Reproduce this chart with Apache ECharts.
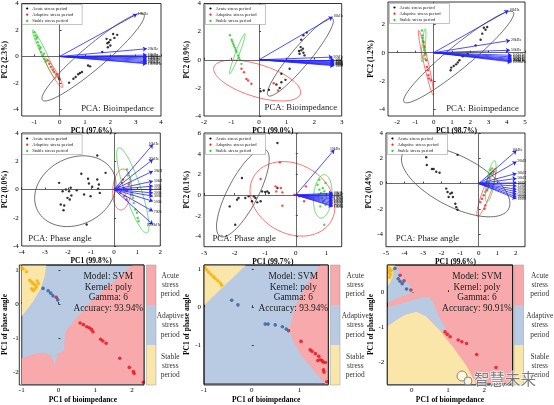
<!DOCTYPE html>
<html>
<head>
<meta charset="utf-8">
<script src="https://cdn.jsdelivr.net/npm/echarts@6/dist/echarts.min.js"></script>
<style>
html, body { margin: 0; padding: 0; background: #fff; }
#main { width: 554px; height: 405px; }
</style>
</head>
<body>
<div id="main"></div>
<script>
// ---- data ----
var groupNames = ['Acute stress period', 'Adaptive stress period', 'Stable stress period'];
var bioFreqs = ['10kHz', '20kHz', '50kHz', '100kHz', '150kHz', '200kHz', '300kHz', '500kHz', '700kHz', '1000kHz'];
var phaseFreqs = ['10kHz', '20kHz', '30kHz', '50kHz', '100kHz', '150kHz', '200kHz', '300kHz', '500kHz', '700kHz', '1000kHz'];

// PCA of bioimpedance, panel 1
var bio1Acute = [[1.68,0.33],[1.88,1.0],[1.94,1.08],[2.0,0.83],[2.11,1.7],[2.16,1.4],[2.27,1.63],[1.85,1.33],[2.0,1.25],[1.9,0.7],[0.37,-1.98],[0.54,-1.68],[0.63,-1.55],[0.73,-1.35],[0.8,-1.25],[0.88,-1.18],[1.12,-0.68],[1.2,-0.75],[-0.02,-1.68]];
var bio1Adaptive = [[-0.48,-0.3],[-0.41,-0.55],[-0.35,-0.8],[-0.28,-1.0],[-0.22,-1.18],[-0.12,-1.35],[-0.06,-1.55],[-0.01,-1.75]];
var bio1Stable = [[-1,1.83],[-0.96,1.58],[-0.92,1.33],[-0.87,1.08],[-0.83,0.83],[-0.78,0.58],[-0.73,0.33],[-0.67,0.08],[-0.61,-0.18],[-0.56,-0.38],[-0.9,1.45],[-0.76,0.7],[-0.63,0.2]];
var bio1Load = [[3.05,3.2],[3.44,0.58],[3.44,0.1],[3.44,0.0],[3.44,-0.1],[3.44,-0.2],[3.44,-0.3],[3.44,-0.4],[3.44,-0.5],[3.44,-0.55]];
// ellipse: centre x, centre y, half axis u (x, y), half axis v (x, y), group
var bio1Ell = [[1.32,-0.05,2.0,3.25,0.30,-0.66,0],[-0.22,-1.26,0.33,-1.08,0.09,0.1,1],[-0.61,0.16,0.46,-1.84,0.094,0.085,2]];

// PCA of bioimpedance, panel 2
var bio2Acute = [[1.47,0.43],[1.53,0.67],[1.59,0.79],[1.51,0.9],[1.61,0.5],[1.45,0.62],[1.65,0.31],[1.53,1.43],[1.61,1.74],[1.73,1.93],[1.2,-0.1],[1.11,-0.64],[0.81,-1.0],[0.96,-1.43],[0.81,-1.6],[0.63,-1.76],[0.75,-2.0],[0.36,-2.14],[0.17,-2.19],[0.05,-2.24]];
var bio2Adaptive = [[-0.64,-0.64],[-0.55,-0.88],[-0.46,-1.36],[-0.4,-1.48],[-0.28,-1.71],[0.53,-1.67],[0.69,-2.19]];
var bio2Stable = [[-1.06,1.74],[-1.0,1.43],[-0.94,1.14],[-0.88,0.86],[-0.82,0.55],[-0.76,0.31],[-0.7,0],[-0.64,-0.29],[-0.97,1.3],[-0.85,0.7],[-0.73,0.15],[-0.91,1.0]];
var bio2Load = [[2.67,3.05],[2.67,0.19],[2.73,0.0],[2.73,-0.08],[2.73,-0.15],[2.73,-0.22],[2.73,-0.28],[2.73,-0.33],[2.73,-0.38],[2.73,-0.42]];
var bio2Ell = [[1.5,0.19,1.17,2.74,0.26,-0.43,0],[-0.07,-1.48,1.57,-0.95,-0.17,-1.1,1],[-0.79,0.43,0.27,1.43,0.09,0.067,2]];

// PCA of bioimpedance, panel 3
var bio3Acute = [[2.75,1.77],[2.84,1.63],[2.93,1.82],[2.66,1.35],[2.57,0.92],[2.3,0.52],[1.86,-0.07],[1.59,-0.26],[1.41,-0.54],[1.32,-0.69],[1.23,-0.83],[0.93,-1.25],[0.96,-1.06],[1.1,-0.95]];
var bio3Adaptive = [[-0.55,0.76],[-0.5,0.4],[-0.46,-0.07],[-0.41,-0.54],[-0.37,-1.02],[-0.32,-1.25],[-0.29,-1.6],[-0.25,-1.84],[-0.14,-1.96]];
var bio3Stable = [[-0.64,1.58],[-0.61,1.23],[-0.59,0.87],[-0.55,0.52],[-0.52,0.17],[-0.5,-0.19],[-0.46,-0.43],[-0.6,1.05],[-0.53,0.35]];
var bio3Load = [[4.09,3.0],[4.18,0.87],[4.18,0.17],[4.27,-0.19],[4.27,-0.3],[4.27,-0.4],[4.27,-0.48],[4.27,-0.55],[4.27,-0.6],[4.27,-0.66]];
var bio3Ell = [[1.37,-0.31,2.99,3.19,0.39,-0.64,0],[-0.42,-0.72,0.4,-2.3,0.12,0.04,1],[-0.55,0.52,0.09,1.18,0.09,0.012,2]];

// PCA of phase angle, panel 1
var pha1Acute = [[-2.38,0.47],[-2.23,-0.12],[-2.09,0],[-1.95,-0.12],[-1.88,0.12],[-2.31,-1.06],[-2.16,-1.13],[-2.19,-1.47],[-2.02,-0.59],[-1.92,-0.71],[-1.85,-0.43],[-1.62,-0.05],[-1.42,1.11],[-1.13,0.76],[-1.09,0.43],[-0.95,0.19],[-0.73,0.71],[-0.66,0.35],[-0.69,0.05],[-0.62,-0.24],[-0.37,1.18],[-0.73,2.41],[-1.19,-2.48],[-1.3,-0.35],[-1.02,-0.47]];
var pha1Adaptive = [[0.2,0.19],[0.34,0.47],[0.42,0.12],[0.56,-0.12],[0.27,-0.24],[0.44,-0.47],[0.63,0.35],[0.39,0.71],[0.53,-0.71],[0.13,0]];
var pha1Stable = [[0.56,1.42],[0.63,1.18],[0.7,0.71],[0.67,0.47],[0.73,0.12],[0.77,-0.24],[0.82,-0.59],[0.85,-0.95],[0.92,-1.42],[0.99,-1.65],[1.02,-2.01],[1.06,-2.25],[0.6,1.0],[0.8,-0.4]];
var pha1Load = [[1.68,3.19],[1.68,2.13],[1.68,1.3],[1.68,0.59],[1.68,0.24],[1.68,0],[1.68,-0.24],[1.68,-0.47],[1.68,-0.83],[1.68,-1.54],[1.68,-2.48]];
var pha1Ell = [[-1.68,-0.12,1.64,1.35,0.64,-2.11,0],[0.34,0,0.05,1.45,0.4,0,1],[0.81,-0.06,-0.61,3.01,0.34,0.19,2]];

// PCA of phase angle, panel 2
var pha2Acute = [[-0.6,5.03],[-1.76,1.65],[-0.93,0.35],[-0.88,0.19],[-1.1,0.35],[-1.37,-0.13],[-1.32,-0.29],[-1.54,-0.13],[-1.87,-0.29],[-1.92,-0.45],[-1.65,-0.29],[-1.43,-0.61],[-1.26,-0.71],[-1.15,-0.61],[-2.16,-1.1],[-1.98,-2.87],[-0.6,0.68],[-1.0,0.3]];
var pha2Adaptive = [[-0.52,3.16],[-1.15,1.55],[-0.66,0.84],[-0.64,0.35],[-0.49,0.68],[-0.44,0.26],[-0.44,-1.03],[-0.05,0.03],[0.33,0.84],[0.27,-0.61],[0.11,-0.13]];
var pha2Stable = [[0.71,1.0],[0.77,0.52],[0.82,0.19],[0.88,0.68],[0.93,0.35],[0.99,-0.13],[0.86,-0.29],[0.9,-0.61],[0.97,-0.94],[0.8,-1.1],[0.77,1.48],[0.97,1.16],[0.93,-2.87],[0.75,0.0]];
var pha2Load = [[1.26,4.39],[1.21,0.19],[1.21,0.05],[1.21,-0.1],[1.21,-0.25],[1.21,-0.4],[1.21,-0.55],[1.21,-0.7],[1.21,-0.85],[1.21,-1.0],[1.21,-1.1]];
var pha2Ell = [[-1.73,0.2,0.74,4.2,0.44,-0.67,0],[-0.11,-0.37,1.26,-2.18,-0.58,-2.87,1],[0.88,-0.13,0.05,2.1,0.3,0,2]];

// PCA of phase angle, panel 3
var pha3Acute = [[-1.14,2.27],[-2.83,2.08],[-2.8,1.47],[-2.52,1.15],[-2.43,1.15],[-2.29,0.93],[-2.11,0.85],[-1.75,-0.4],[-1.68,-0.67],[-1.53,-0.8],[-1.44,-0.72],[-1.62,-1.07],[-1.39,-1.07],[-1.26,-1.6],[-1.21,-1.87],[-1.14,-2.08]];
var pha3Adaptive = [[0.09,-1.47],[0.18,-1.2],[0.27,-0.93],[0.36,-1.73],[0.32,-2.0],[0.45,-0.53],[0.59,0.4],[0.67,0.8],[0.81,0.93],[0.54,-0.13]];
var pha3Stable = [[0.45,0.27],[0.54,0.53],[0.63,1.07],[0.72,1.2],[0.49,-0.4],[0.36,-0.67],[0.77,0.8],[0.54,0.13],[0.6,0.7]];
var pha3Load = [[2.04,2.61],[2.04,1.73],[2.04,0.8],[2.04,0.4],[2.04,0.05],[2.04,-0.2],[2.04,-0.45],[2.04,-0.65],[2.04,-0.85],[2.04,-1.05],[2.04,-1.2]];
var pha3Ell = [[-1.24,0.17,2.86,-2.17,-0.62,-1.78,0],[0.42,-0.7,0.48,1.9,0.2,-0.11,1],[0.65,0.17,0.2,1.64,0.21,-0.03,2]];

// SVM panels: points and decision region outlines
var svm1Acute = [[-0.06,0.2],[0.59,-0.56],[0.68,-0.61],[0.77,-0.67],[0.84,-0.70],[0.9,-0.75],[0.94,-0.82],[1.15,-1.04],[1.21,-1.09],[1.3,-1.16],[1.67,-1.6],[1.93,-1.87],[2.04,-1.99],[2.06,-2.05],[2.31,-2.31]];
var svm1Adaptive = [[-0.42,0.46],[-0.28,0.39],[-0.21,0.32],[-0.15,0.24],[-0.02,0.12]];
var svm1Stable = [[-1,1.07],[-0.96,1.03],[-0.87,0.95],[-0.78,0.7],[-0.73,0.65],[-0.69,0.6],[-0.64,0.56],[-0.6,0.5],[-0.73,0.45],[-0.69,0.4],[-0.64,0.44],[-0.55,0.6],[-0.58,0.68]];
var svm1RedArea = [[-1,-2.36],[2.33,-2.36],[2.33,1.15],[2.01,1.15],[1.5,0.65],[1.0,0.2],[0.5,-0.4],[0.2,-0.8],[0.16,-1.1],[0.16,-1.39],[-0.02,-1.46],[-0.10,-1.82],[-0.19,-1.53],[-0.37,-1.44],[-0.64,-1.46],[-1,-1.6]];
var svm1YellowArea = [[-1,1.15],[-0.33,1.15],[-0.38,0.8],[-0.48,0.46],[-0.69,0.07],[-1,-0.36]];

var svm2Acute = [[0.77,-0.61],[1.03,-0.89],[1.22,-1.11],[1.26,-1.15],[1.33,-1.21],[1.40,-1.28],[1.43,-1.37],[1.47,-1.39],[1.49,-1.43],[1.54,-1.44],[1.38,-1.39],[1.50,-1.63],[1.51,-1.69],[1.57,-1.94]];
var svm2Adaptive = [[-0.42,0.18],[-0.29,0.06],[0.28,-0.44],[0.34,-0.44],[0.49,-0.46],[0.64,-0.51],[0.72,-0.57]];
var svm2Stable = [[-0.98,1.03],[-0.94,0.97],[-0.9,0.91],[-0.85,0.85],[-0.8,0.79],[-0.76,0.74],[-0.71,0.69],[-0.66,0.63],[-0.63,0.57]];
var svm2RedArea = [[1.43,1.1],[1.6,1.1],[1.6,-2],[1.54,-2],[1.29,-1.64],[1.01,-1.21],[0.83,-0.79],[0.8,-0.48],[0.92,0.07],[1.15,0.6]];
var svm2YellowArea = [[-1,1.1],[-0.12,1.1],[-1,0.05]];

var svm3Acute = [[-0.32,0.48],[-0.21,0.32],[-0.02,0.06],[0.92,-1.13],[0.98,-1.2],[1.06,-1.27],[1.28,-1.36],[1.38,-1.41],[1.51,-1.46],[1.79,-1.77],[2.32,-2.14]];
var svm3Adaptive = [[-0.46,0.67],[-0.37,0.38],[-0.32,0.31],[-0.26,0.24],[-0.14,0.09]];
var svm3Stable = [[-0.62,0.68],[-0.6,0.6],[-0.63,0.55],[-0.58,0.5],[-0.61,0.42],[-0.56,0.62]];
var svm3YellowArea = [[-0.67,-2.61],[-0.67,-0.97],[-0.41,-0.78],[-0.14,-0.62],[0.14,-0.56],[0.41,-0.69],[0.78,-1.09],[1.15,-1.58],[1.51,-2.09],[1.77,-2.61]];
var svm3BlueArea = [[-0.67,0.77],[-0.46,0.77],[-0.27,0.48],[-0.05,0.2],[0.09,0.01],[-0.18,-0.08],[-0.55,-0.25],[-0.67,-0.3]];
var svm3BlueStrip = [[-0.67,-0.42],[-0.4,-0.36],[-0.1,-0.27],[0.25,-0.15],[0.5,-0.15],[0.6,-0.3],[0.75,-0.7],[0.95,-1.05],[0.82,-1.12],[0.41,-0.69],[0.14,-0.56],[-0.14,-0.62],[-0.41,-0.78],[-0.67,-0.97]];
var svm3YellowCorner = [[-0.67,0.77],[-0.5,0.77],[-0.52,0.45],[-0.6,0.25],[-0.67,0.18]];
var svmAccuracy = ['93.94%', '93.94%', '90.91%'];

// axes
var xRanges = [[-1.5,4],[-2,3],[-2.5,5],[-4,2],[-3,1.5],[-5,2.5],[-1,2.33],[-1,1.6],[-0.67,2.78]];
var yRanges = [[-4.5,4],[-4,4],[-4.5,3.6],[-4,4],[-5,6],[-5,4],[-2.36,1.15],[-2,1.1],[-2.61,0.77]];
var xTicks = [[-1,0,1,2,3,4],[-2,-1,0,1,2,3],[-2,-1,0,1,2,3,4,5],[-4,-3,-2,-1,0,1,2],[-3,-2,-1,0,1],[-5,-4,-3,-2,-1,0,1,2],[-1,0,1,2],[-1,0,1],[0,1,2]];
var yTicks = [[-4,-2,0,2,4],[-4,-2,0,2,4],[-4,-2,0,2],[-4,-2,0,2,4],[-4,-2,0,2,4,6],[-4,-2,0,2,4],[-2,-1,0,1],[-1,0,1],[-2,-1,0]];
var xNames = ['PC1 (97.6%)','PC1 (99.0%)','PC1 (98.7%)','PC1 (99.8%)','PC1 (99.7%)','PC1 (99.6%)','PC1 of bioimpedance','PC1 of bioimpedance','PC1 of bioimpedance'];
var yNames = ['PC2 (2.3%)','PC2 (0.9%)','PC2 (1.2%)','PC2 (0.0%)','PC2 (0.1%)','PC2 (0.4%)','PC1 of phase angle','PC1 of phase angle','PC1 of phase angle'];
var pcaTitles = ['PCA: Bioimpedance','PCA: Bioimpedance','PCA: Bioimpedance','PCA: Phase angle','PCA: Phase angle','PCA: Phase angle'];

// ---- styling / layout ----
var FONT = 'Liberation Serif';
var groupColors = ['#000000', '#ff1a1a', '#22cc22'];
var ellColors = ['#333333', '#ff3333', '#33cc33'];
var regionColors = ['#f7a9ab', '#b8cbe3', '#fbe6a9'];
var svmDotColors = ['#e3121b', '#2d5a9f', '#f3b000'];

var boxes = [
    [20.7, 3, 140.3, 113], [204, 3, 137.7, 113], [388, 2, 137, 114],
    [20.7, 133, 139.6, 113], [204, 133, 137.7, 113.7], [386, 133, 139, 113.7],
    [19.3, 265, 124.7, 120], [204, 265, 124.3, 120], [387.3, 265, 125.4, 120]
];
var svmBg = [1, 1, 0];

var pcaPanels = [
    {pts: [bio1Acute, bio1Adaptive, bio1Stable], load: bio1Load, ell: bio1Ell, freqs: bioFreqs},
    {pts: [bio2Acute, bio2Adaptive, bio2Stable], load: bio2Load, ell: bio2Ell, freqs: bioFreqs},
    {pts: [bio3Acute, bio3Adaptive, bio3Stable], load: bio3Load, ell: bio3Ell, freqs: bioFreqs},
    {pts: [pha1Acute, pha1Adaptive, pha1Stable], load: pha1Load, ell: pha1Ell, freqs: phaseFreqs},
    {pts: [pha2Acute, pha2Adaptive, pha2Stable], load: pha2Load, ell: pha2Ell, freqs: phaseFreqs},
    {pts: [pha3Acute, pha3Adaptive, pha3Stable], load: pha3Load, ell: pha3Ell, freqs: phaseFreqs}
];
var svmPanels = [
    {pts: [svm1Acute, svm1Adaptive, svm1Stable], areas: [[0, svm1RedArea], [2, svm1YellowArea]]},
    {pts: [svm2Acute, svm2Adaptive, svm2Stable], areas: [[0, svm2RedArea], [2, svm2YellowArea]]},
    {pts: [svm3Acute, svm3Adaptive, svm3Stable], areas: [[2, svm3YellowArea], [1, svm3BlueArea], [1, svm3BlueStrip], [2, svm3YellowCorner]]}
];

var grids = [], xAxes = [], yAxes = [], series = [], graphics = [];

boxes.forEach(function (b, i) {
    var svm = i >= 6;
    grids.push({
        left: b[0], top: b[1], width: b[2], height: b[3],
        show: true, borderColor: '#000', borderWidth: 0.8,
        backgroundColor: svm ? regionColors[svmBg[i - 6]] : 'transparent'
    });
    xAxes.push({
        type: 'value', gridIndex: i, min: xRanges[i][0], max: xRanges[i][1],
        name: xNames[i], nameLocation: 'middle', nameGap: svm ? 12 : 8.5,
        nameTextStyle: {fontFamily: FONT, fontWeight: 'bold', fontSize: 7.5, color: '#000'},
        axisLine: {show: false},
        splitLine: {show: false},
        axisTick: {inside: true, length: 2, customValues: xTicks[i], lineStyle: {color: '#000', width: 0.7}},
        axisLabel: {customValues: xTicks[i], fontFamily: FONT, fontSize: 7, color: '#000', margin: 3}
    });
    yAxes.push({
        type: 'value', gridIndex: i, min: yRanges[i][0], max: yRanges[i][1],
        name: yNames[i], nameLocation: 'middle', nameGap: svm ? 9 : 7.5,
        nameTextStyle: {fontFamily: FONT, fontWeight: 'bold', fontSize: 7.5, color: '#000'},
        axisLine: {show: false},
        splitLine: {show: false},
        axisTick: {inside: true, length: 2, customValues: yTicks[i], lineStyle: {color: '#000', width: 0.7}},
        axisLabel: {customValues: yTicks[i], fontFamily: FONT, fontSize: 7, color: '#000', margin: 3}
    });
});

function ellipseRender(params, api) {
    var cx = api.value(0), cy = api.value(1);
    var ux = api.value(2), uy = api.value(3), vx = api.value(4), vy = api.value(5);
    var pts = [];
    for (var k = 0; k <= 96; k++) {
        var t = k / 96 * Math.PI * 2;
        pts.push(api.coord([cx + Math.cos(t) * ux + Math.sin(t) * vx, cy + Math.cos(t) * uy + Math.sin(t) * vy]));
    }
    return {type: 'polyline', shape: {points: pts}, style: {fill: null, stroke: ellColors[api.value(6)], lineWidth: 0.7}};
}

pcaPanels.forEach(function (p, i) {
    p.pts.forEach(function (d, g) {
        var s = {
            type: 'scatter', name: groupNames[g], xAxisIndex: i, yAxisIndex: i,
            symbol: 'circle', symbolSize: 2.4, itemStyle: {color: groupColors[g]},
            z: 4, silent: true, data: d
        };
        if (g == 0) {
            s.markLine = {
                silent: true, symbol: ['none', 'none'], label: {show: false},
                lineStyle: {color: '#444', width: 0.8, type: 'solid'},
                data: [{xAxis: 0}, {yAxis: 0}]
            };
        }
        series.push(s);
    });
    series.push({
        type: 'custom', xAxisIndex: i, yAxisIndex: i, silent: true, z: 3,
        renderItem: ellipseRender, data: p.ell
    });
    series.push({
        type: 'lines', coordinateSystem: 'cartesian2d', xAxisIndex: i, yAxisIndex: i,
        silent: true, z: 5,
        symbol: ['none', 'arrow'], symbolSize: 4,
        lineStyle: {color: '#2222ff', width: 0.8, opacity: 1, curveness: 0},
        label: {show: true, position: 'end', distance: 1, formatter: '{b}', fontFamily: FONT, fontSize: 3.8, color: '#111'},
        data: p.load.map(function (pt, k) { return {name: p.freqs[k], coords: [[0, 0], pt]}; })
    });

    // small boxed key in the upper-left corner of every PCA panel
    var b = boxes[i], lx = b[0] + 1.5, ly = b[1] + 1.5;
    graphics.push({type: 'rect', z: 40, silent: true,
        shape: {x: lx, y: ly, width: 60, height: 20},
        style: {fill: '#fff', stroke: '#888', lineWidth: 0.5}});
    groupNames.forEach(function (n, g) {
        graphics.push({type: 'circle', z: 41, silent: true,
            shape: {cx: lx + 5, cy: ly + 4 + g * 6.2, r: 1.1},
            style: {fill: groupColors[g]}});
        graphics.push({type: 'text', z: 41, silent: true, style: {
            text: n, x: lx + 10, y: ly + 4 + g * 6.2, verticalAlign: 'middle',
            fontFamily: FONT, fontSize: 4.6, fill: '#222'
        }});
    });
});

svmPanels.forEach(function (p, j) {
    var i = j + 6;
    series.push({
        type: 'custom', xAxisIndex: i, yAxisIndex: i, silent: true, z: 1, clip: true,
        data: p.areas.map(function (a, k) { return [k]; }),
        renderItem: function (params, api) {
            var a = p.areas[params.dataIndex];
            return {
                type: 'polygon',
                shape: {points: a[1].map(function (v) { return api.coord(v); })},
                style: {fill: regionColors[a[0]]}
            };
        }
    });
    p.pts.forEach(function (d, g) {
        series.push({
            type: 'scatter', name: 'svm' + g, xAxisIndex: i, yAxisIndex: i, silent: true, z: 4,
            symbol: 'circle', symbolSize: 3.6, itemStyle: {color: svmDotColors[g]}, data: d
        });
    });
});

// text labels on the PCA panels
var pcaLabelPos = [[117.5, 108.3], [300.8, 107.3], [482.5, 108.3], [60, 238.3], [244.2, 238.3], [427.5, 238.3]];
pcaTitles.forEach(function (t, i) {
    graphics.push({type: 'text', z: 50, style: {
        text: t, x: pcaLabelPos[i][0], y: pcaLabelPos[i][1], align: 'center', verticalAlign: 'middle',
        fontFamily: FONT, fontSize: 8.8, fill: '#222'
    }});
});

// SVM annotations, frames and colour bars
var svmTextX = [108.3, 293.3, 477];
var barX = [146.5, 330.5, 514];
var barTextX = [170.3, 355.3, 539.7];
var barLabels = ['Acute\nstress\nperiod', 'Adaptive\nstress\nperiod', 'Stable\nstress\nperiod'];
[6, 7, 8].forEach(function (i, j) {
    var b = boxes[i];
    graphics.push({type: 'rect', z: 50, silent: true,
        shape: {x: b[0], y: b[1], width: b[2], height: b[3]},
        style: {fill: 'none', stroke: '#000', lineWidth: 0.8}});
    graphics.push({type: 'text', z: 50, style: {
        text: 'Model: SVM\nKernel: poly\nGamma: 6\nAccuracy: ' + svmAccuracy[j],
        x: svmTextX[j], y: 271.5, align: 'center', verticalAlign: 'top', lineHeight: 10.5,
        fontFamily: FONT, fontSize: 9.4, fill: '#222'
    }});
    for (var k = 0; k < 3; k++) {
        graphics.push({type: 'rect', z: 50, silent: true,
            shape: {x: barX[j], y: 265 + k * 40, width: 9.5, height: 40},
            style: {fill: regionColors[k], stroke: null}});
        graphics.push({type: 'text', z: 50, style: {
            text: barLabels[k], x: barTextX[j], y: 285 + k * 40.5, align: 'center', verticalAlign: 'middle',
            lineHeight: 9.3, fontFamily: FONT, fontSize: 7.4, fill: '#333'
        }});
    }
    graphics.push({type: 'rect', z: 51, silent: true,
        shape: {x: barX[j], y: 265, width: 9.5, height: 120},
        style: {fill: 'none', stroke: '#999', lineWidth: 0.5}});
});

// watermark
graphics.push({type: 'circle', z: 60, shape: {cx: 462, cy: 376, r: 5}, style: {fill: 'rgba(255,255,255,0.6)', stroke: '#888', lineWidth: 1}});
graphics.push({type: 'circle', z: 60, shape: {cx: 468, cy: 381, r: 4}, style: {fill: 'rgba(255,255,255,0.6)', stroke: '#888', lineWidth: 1}});
graphics.push({type: 'text', z: 60, style: {
    text: '智慧未来', x: 505, y: 379, align: 'center', verticalAlign: 'middle',
    fontFamily: 'Noto Sans CJK SC', fontSize: 15.5, fill: 'rgba(110,110,110,0.9)', stroke: '#fff', lineWidth: 1
}});

var chart = echarts.init(document.getElementById('main'), null, {renderer: 'canvas'});
chart.setOption({
    animation: false,
    backgroundColor: '#fff',
    textStyle: {fontFamily: FONT},
    grid: grids,
    xAxis: xAxes,
    yAxis: yAxes,
    series: series,
    graphic: graphics
});
</script>
</body>
</html>
